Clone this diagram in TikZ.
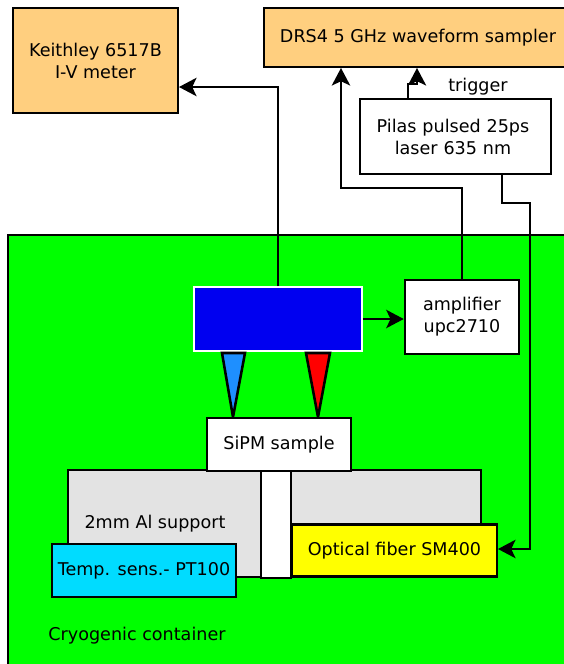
\documentclass[tikz,border=0pt]{standalone}
\usepackage{fontspec}
\setmainfont{DejaVu Sans}
\usetikzlibrary{arrows.meta}

\definecolor{instrorange}{HTML}{FFCF7F}
\definecolor{sensorcyan}{HTML}{00DCFF}
\definecolor{supportgray}{HTML}{E3E3E3}
\definecolor{probeblue}{HTML}{1E8FFF}
\definecolor{fiberyellow}{HTML}{FFFF00}
\definecolor{boardblue}{HTML}{0000F0}

\tikzset{
	box/.style={draw=black,line width=1.45pt,inner sep=0pt,align=center,fill=white,
		font=\fontsize{10}{12.5}\selectfont},
	wire/.style={draw=black,line width=1.25pt,-{Stealth[length=10pt,width=10.5pt,inset=2.5pt]}},
	probe/.style={draw=black,line width=1.45pt,line join=miter},
	lbl/.style={inner sep=0pt,font=\fontsize{10}{12.5}\selectfont}
}

\begin{document}
\begin{tikzpicture}[x=0.02cm,y=-0.02cm]
	\useasboundingbox (0,0) rectangle (564,664);
	\clip (0,0) rectangle (564,664);

	% Draw the cryogenic container
	\node[box,fill=green,minimum width=11.6cm,minimum height=9cm] (container) at (298,460) {};
	\node[lbl] (containerlabel) at (137,636) {Cryogenic container};

	% Named points where the connectors leave or reach a box
	\coordinate (keithleyin) at (179,87);
	\coordinate (drsin) at (341,68);
	\coordinate (triggerin) at (417,68);
	\coordinate (triggerout) at (408,99);
	\coordinate (laserout) at (502,174);
	\coordinate (ampout) at (462,280);
	\coordinate (fiberin) at (498,549);

	% Draw the instruments
	\node[box,fill=instrorange,minimum width=3.3cm,minimum height=2.1cm] (keithley) at (95.5,60.5) {Keithley 6517B\\I-V meter};
	\node[box,fill=instrorange,minimum width=6.16cm,minimum height=1.18cm] (drs) at (418,37.5) {DRS4 5 GHz waveform sampler};
	\node[box,minimum width=3.82cm,minimum height=1.5cm,text width=3.76cm] (laser) at (455.5,136.5) {\hspace*{-.1cm}Pilas pulsed 25ps\\\hspace*{-.1cm}laser 635 nm};
	\node[lbl] (trigger) at (478,87) {trigger};
	\node[box,minimum width=2.28cm,minimum height=1.48cm] (amp) at (462,317) {amplifier\\upc2710};

	% Draw the connectors
	\node[box,draw=white,line width=1pt,fill=boardblue,minimum width=3.36cm,minimum height=1.28cm] (board) at (278,319) {};
	\draw[wire] (board.north) |- (keithleyin);
	\draw[wire] (ampout) -- (462,188) -| (drsin);
	\draw[wire,line width=1pt] (triggerout) -- (408,84) -| (triggerin);
	\draw[wire] (laserout) -- (502,203) -| (530,549) -- (fiberin);
	\draw[wire] (board.east) -- (board.east-|amp.west);

	% Draw the two probes
	\draw[probe,fill=probeblue] (222,353) -- (245,353) -- (233,417) -- cycle;
	\draw[probe,fill=red] (306,353) -- (330,353) -- (318,417) -- cycle;

	% Draw the sample on its support
	\node[box,fill=supportgray,minimum width=8.26cm,minimum height=2.14cm] (support) at (274.5,523.5) {};
	\node[lbl] (supportlabel) at (155,524) {2mm Al support};
	\node[box,minimum width=2.88cm,minimum height=1.06cm] (sipm) at (279,444.5) {SiPM sample};
	\node[box,minimum width=.6cm,minimum height=2.14cm] (pillar) at (276,524.5) {};
	\node[box,fill=fiberyellow,minimum width=4.1cm,minimum height=1.04cm] (fiber) at (394.5,550.5) {Optical fiber SM400};
	\node[box,fill=sensorcyan,minimum width=3.68cm,minimum height=1.06cm] (sensor) at (144,570.5) {Temp. sens.- PT100};
\end{tikzpicture}
\end{document}
